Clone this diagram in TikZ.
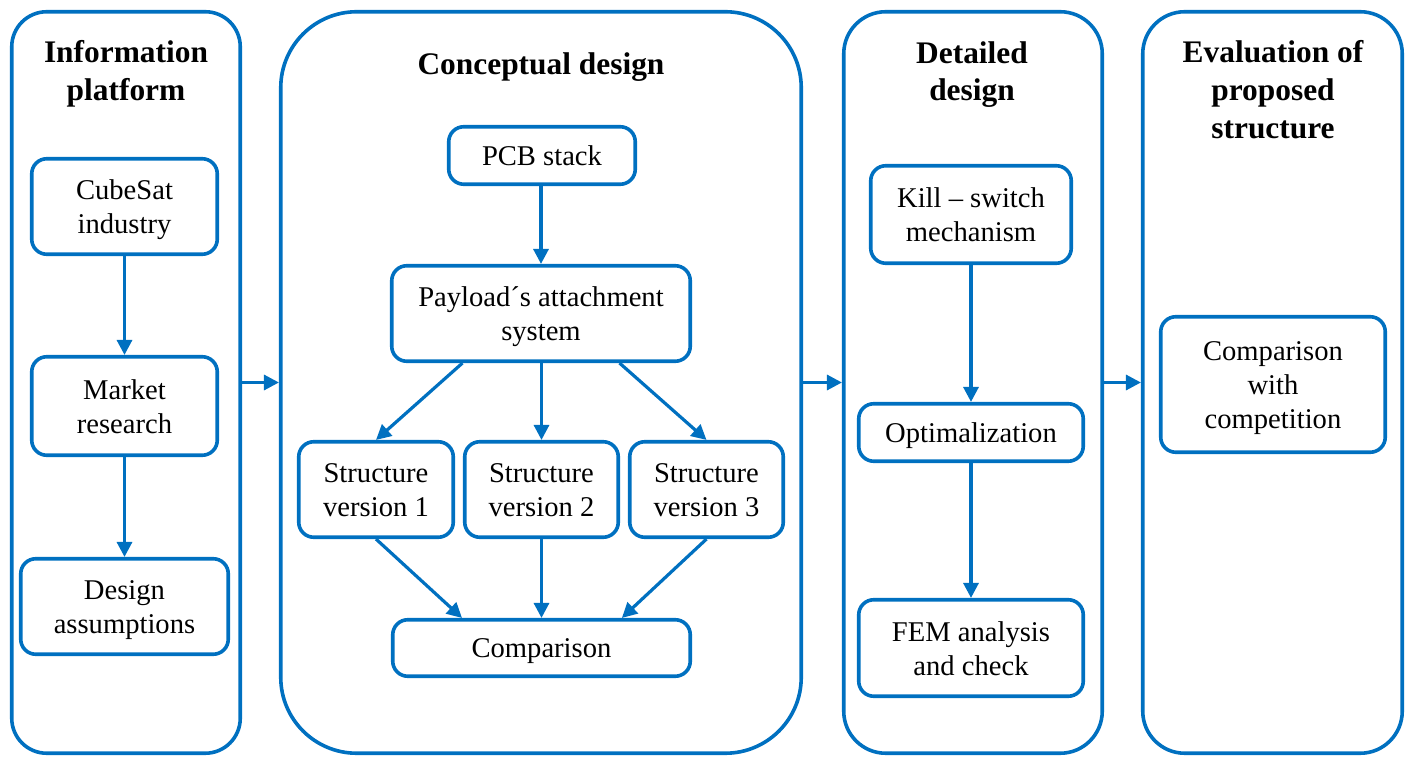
\documentclass[tikz,border=0pt]{standalone}
\usepackage{fontspec}
\setmainfont{Liberation Serif}
\usetikzlibrary{arrows.meta,calc}
\definecolor{blu}{HTML}{0070C0}
\newcommand\tps{\rule{0pt}{12.75pt}}
\newcommand\bts{\rule[-2.25pt]{0pt}{2.25pt}}
\begin{document}
\begin{tikzpicture}[x=0.5pt,y=-0.5pt,
  panel/.style={draw=blu,line width=1.8pt,inner sep=0pt},
  box/.style={draw=blu,line width=1.8pt,rounded corners=7.5pt,inner sep=0pt,align=center,
    font=\fontsize{14.3}{17}\selectfont},
  ttl/.style={inner sep=0pt,align=center,font=\fontsize{15.7}{18.85}\selectfont\bfseries},
  arr/.style={draw=blu,line width=1.6pt,-{Triangle[length=7.5pt,width=7.5pt]}}]
\useasboundingbox (0,0) rectangle (1410,758);
% panels
\node[panel,rounded corners=17.5pt,minimum width=114.25pt,minimum height=370.75pt] (p1) at (126,382.5) {};
\node[panel,rounded corners=38pt,minimum width=260.25pt,minimum height=370.75pt] (p2) at (541,382.5) {};
\node[panel,rounded corners=21pt,minimum width=129.25pt,minimum height=370.75pt] (p3) at (973,382.5) {};
\node[panel,rounded corners=21pt,minimum width=129.75pt,minimum height=370.75pt] (p4) at (1272.5,382.5) {};
% titles
\node[ttl] (t1) at (126,74) {Information\\platform};
\node[ttl] (t2) at (541,67) {Conceptual design};
\node[ttl] (t3) at (972,74.5) {Detailed\\design};
\node[ttl] (t4) at (1273,89.5) {Evaluation of\\proposed\\structure};
% panel 1
\node[box,minimum width=92.75pt,minimum height=47.75pt] (cube) at (124.5,206.5) {\tps CubeSat\\industry\bts};
\node[box,minimum width=92.75pt,minimum height=49.25pt] (market) at (124.5,406) {\tps Market\\research\bts};
\node[box,minimum width=103.75pt,minimum height=47.75pt] (design) at (124.5,606.5) {\tps Design\\assumptions\bts};
% panel 2
\node[box,minimum width=93.25pt,minimum height=28.75pt] (pcb) at (542,155.5) {\tps PCB stack\bts};
\node[box,minimum width=149.25pt,minimum height=47.75pt] (pay) at (541,313.5) {\tps Payload´s attachment\\system\bts};
\node[box,minimum width=77.25pt,minimum height=47.75pt] (s1) at (376,489.5) {\tps Structure\\version 1\bts};
\node[box,minimum width=76.75pt,minimum height=47.75pt] (s2) at (541.5,489.5) {\tps Structure\\version 2\bts};
\node[box,minimum width=76.75pt,minimum height=47.75pt] (s3) at (706.5,489.5) {\tps Structure\\version 3\bts};
\node[box,minimum width=148.75pt,minimum height=28.25pt] (comp) at (541.5,648) {\tps Comparison\bts};
% panel 3
\node[box,minimum width=100.25pt,minimum height=48.75pt] (kill) at (971,214.5) {\tps Kill – switch\\mechanism\bts};
\node[box,minimum width=112.25pt,minimum height=28.75pt] (opt) at (971,432.5) {\tps Optimalization\bts};
\node[box,minimum width=112.25pt,minimum height=48.25pt] (fem) at (971,648) {\tps FEM analysis\\and check\bts};
% panel 4
\node[box,minimum width=112.25pt,minimum height=67.75pt] (compet) at (1273,384.5) {\tps Comparison\\with\\competition\bts};
% arrows
\draw[arr] (cube) -- (market);
\draw[arr] (market) -- (design);
\draw[arr] (pcb.south -| pay.north) -- (pay.north);
\draw[arr] ($(pay.south west)!0.24!(pay.south east)$) -- (s1.north);
\draw[arr] (pay.south -| s2.north) -- (s2.north);
\draw[arr] ($(pay.south west)!0.76!(pay.south east)$) -- (s3.north);
\draw[arr] (s1.south) -- ($(comp.north west)!0.236!(comp.north east)$);
\draw[arr] (s2.south) -- (comp.north -| s2.south);
\draw[arr] (s3.south) -- ($(comp.north west)!0.767!(comp.north east)$);
\draw[arr] (kill) -- (opt);
\draw[arr] (opt) -- (fem);
\draw[arr] (p1.east) -- (p2.west);
\draw[arr] (p2.east) -- (p3.west);
\draw[arr] (p3.east) -- (p4.west);
\end{tikzpicture}
\end{document}
